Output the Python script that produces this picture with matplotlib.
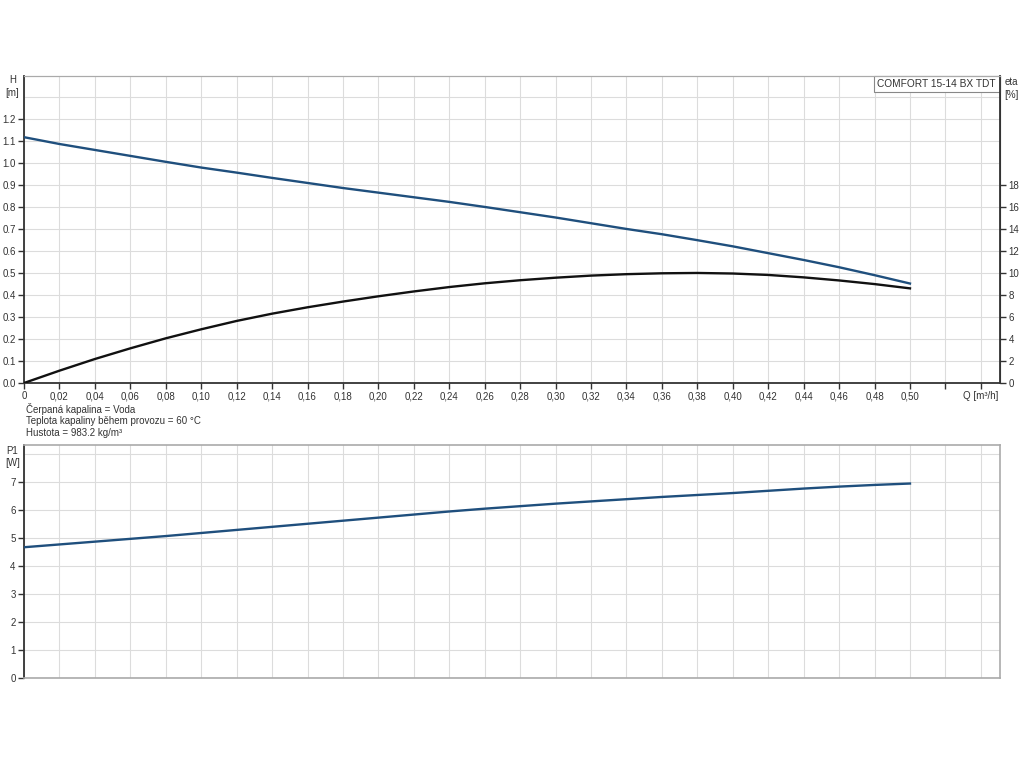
import matplotlib
matplotlib.use("Agg")
import matplotlib.pyplot as plt
from matplotlib.patches import Rectangle

plt.rcParams['font.family'] = ['Liberation Sans', 'DejaVu Sans']

# ---- data ----
q_h = [0, 0.02, 0.04, 0.06, 0.08, 0.10, 0.12, 0.14, 0.16, 0.18, 0.20, 0.22, 0.24,
       0.26, 0.28, 0.30, 0.32, 0.34, 0.36, 0.38, 0.40, 0.42, 0.44, 0.46, 0.48, 0.50]
head = [1.117, 1.086, 1.059, 1.032, 1.005, 0.979, 0.956, 0.932, 0.909, 0.886, 0.865,
        0.844, 0.823, 0.800, 0.776, 0.752, 0.726, 0.700, 0.676, 0.649, 0.621, 0.590,
        0.559, 0.526, 0.490, 0.452]
eta = [0.0, 1.12, 2.18, 3.15, 4.06, 4.88, 5.64, 6.30, 6.88, 7.40, 7.88, 8.32, 8.72,
       9.06, 9.34, 9.57, 9.76, 9.89, 9.97, 10.0, 9.95, 9.82, 9.60, 9.32, 8.99, 8.60]
p1 = [4.68, 4.78, 4.88, 4.98, 5.08, 5.19, 5.30, 5.41, 5.52, 5.63, 5.74, 5.85, 5.96,
      6.06, 6.15, 6.24, 6.32, 6.40, 6.48, 6.55, 6.62, 6.70, 6.78, 6.85, 6.91, 6.96]

x_ticks = [round(0.02 * i, 2) for i in range(28)]
x_labels = ["0"] + [f"{v:.2f}".replace(".", ",") for v in x_ticks[1:26]] + ["", "Q [m³/h]"]
h_ticks = [round(0.1 * i, 1) for i in range(13)]
h_labels = [f"{v:.1f}" for v in h_ticks]
eta_ticks = list(range(0, 20, 2))
p1_ticks = list(range(0, 8))
info_lines = ["Čerpaná kapalina = Voda",
              "Teplota kapaliny během provozu = 60 °C",
              "Hustota = 983.2 kg/m³"]
title_box = "COMFORT 15-14 BX TDT"

BLUE = "#1f4f7d"
GRID = "#dcdcdc"
DARK = "#333333"
LIGHT = "#aaaaaa"
FS = 7

fig = plt.figure(figsize=(10.24, 7.68), dpi=100)
ax = fig.add_axes([24/1024, 1-383/768, 976/1024, 307/768])
ax2 = ax.twinx()
axp = fig.add_axes([24/1024, 1-678/768, 976/1024, 233.3/768])

XMAX = 0.5508

# --- top chart ---
ax.set_xlim(0, XMAX)
ax.set_ylim(0, 1.395)
ax2.set_ylim(0, 1.395 * 20)
ax.set_xticks(x_ticks)
ax.set_xticklabels(x_labels, fontsize=FS, color=DARK)
ax.set_yticks(h_ticks)
ax.set_yticklabels(h_labels, fontsize=FS, color=DARK)
ax2.set_yticks(eta_ticks)
ax2.set_yticklabels([str(v) for v in eta_ticks], fontsize=FS, color=DARK)
ax.grid(True, color=GRID, linewidth=0.8)
ax.axhline(1.3, color=GRID, linewidth=0.8, zorder=0)
ax.set_axisbelow(True)
for a in (ax, ax2):
    a.tick_params(axis='both', length=4, width=1, color=DARK, pad=2)
for side in ('left', 'bottom'):
    ax.spines[side].set_color(DARK); ax.spines[side].set_linewidth(1.3)
ax.spines['top'].set_color(LIGHT); ax2.spines['top'].set_color(LIGHT)
ax.spines['right'].set_color(DARK); ax2.spines['right'].set_color(DARK)
ax2.spines['right'].set_linewidth(1.3)
ax2.spines['left'].set_visible(False); ax2.spines['bottom'].set_visible(False)

ax.plot(q_h, head, color=BLUE, linewidth=1.7, zorder=3)
ax2.plot(q_h, eta, color="#111111", linewidth=1.7, zorder=3)

ax.text(-0.012, 1.0 - 4/307, "H", transform=ax.transAxes, ha='center', va='center',
        fontsize=FS, color=DARK)
ax.text(-0.012, 1.0 - 17/307, "[m]", transform=ax.transAxes, ha='center', va='center',
        fontsize=FS, color=DARK)
ax.text(1.012, 1.0 - 6/307, "eta", transform=ax.transAxes, ha='center', va='center',
        fontsize=FS, color=DARK)
ax.text(1.012, 1.0 - 19/307, "[%]", transform=ax.transAxes, ha='center', va='center',
        fontsize=FS, color=DARK)

bx0 = (874 - 24) / 976
bh = 16 / 307
ax.add_patch(Rectangle((bx0, 1 - bh), 1 - bx0, bh, transform=ax.transAxes,
                       facecolor='white', edgecolor='#888888', linewidth=0.8,
                       zorder=5, clip_on=False))
ax.text(bx0 + 0.003, 1 - bh / 2, title_box, transform=ax.transAxes, ha='left',
        va='center', fontsize=7.3, color=DARK, zorder=6)

for i, line in enumerate(info_lines):
    fig.text(26/1024, 1 - (409 + 12 * i)/768, line, ha='left', va='center',
             fontsize=FS, color=DARK)

# --- P1 chart ---
axp.set_xlim(0, XMAX)
axp.set_ylim(0, 8.35)
axp.set_xticks(x_ticks)
axp.set_xticklabels([])
axp.tick_params(axis='x', length=0)
axp.set_yticks(p1_ticks)
axp.set_yticklabels([str(v) for v in p1_ticks], fontsize=FS, color=DARK)
axp.tick_params(axis='y', length=4, width=1, color=DARK, pad=2)
axp.grid(True, color=GRID, linewidth=0.8)
axp.axhline(8, color=GRID, linewidth=0.8, zorder=0)
axp.set_axisbelow(True)
axp.spines['left'].set_color(DARK); axp.spines['left'].set_linewidth(1.3)
for side in ('top', 'right', 'bottom'):
    axp.spines[side].set_color(LIGHT); axp.spines[side].set_linewidth(1.2)
axp.plot(q_h, p1, color=BLUE, linewidth=1.7, zorder=3)
axp.text(-0.012, 1.0 - 6/233.3, "P1", transform=axp.transAxes, ha='center',
         va='center', fontsize=FS, color=DARK)
axp.text(-0.012, 1.0 - 18/233.3, "[W]", transform=axp.transAxes, ha='center',
         va='center', fontsize=FS, color=DARK)

fig.savefig("out.png", dpi=100, facecolor='white')
